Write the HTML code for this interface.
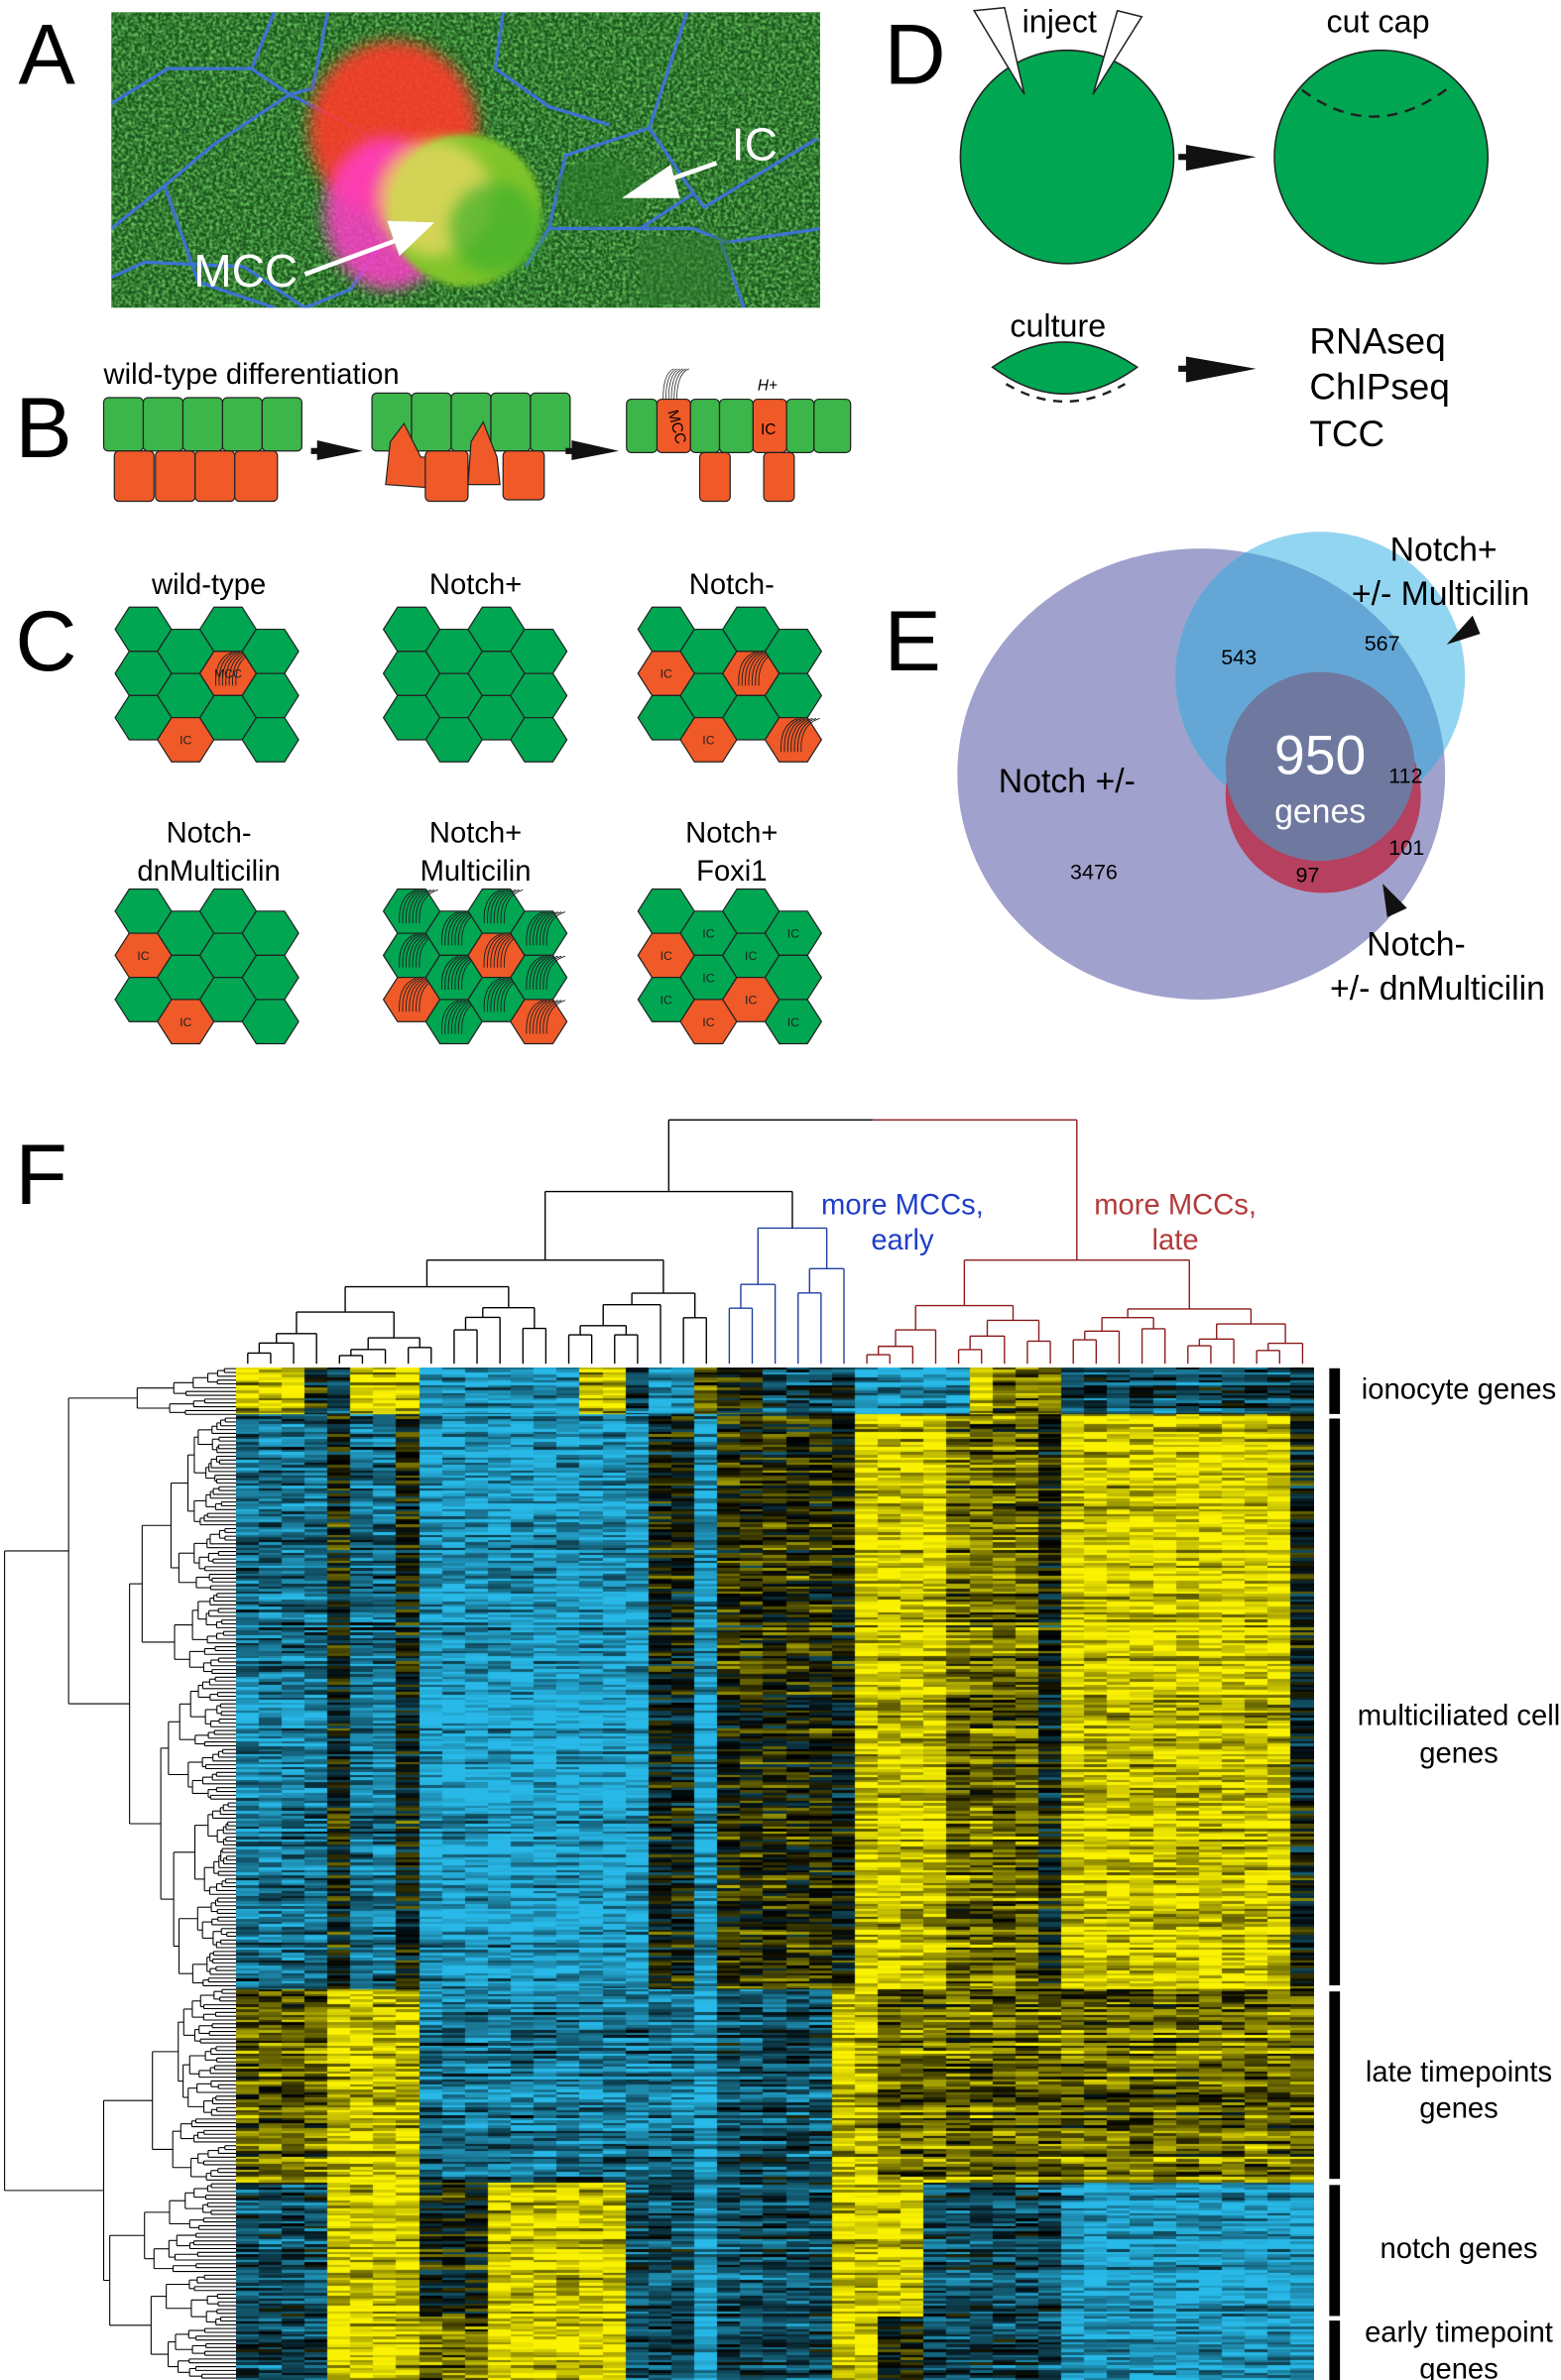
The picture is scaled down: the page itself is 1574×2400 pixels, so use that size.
<!DOCTYPE html>
<html><head><meta charset="utf-8">
<style>
html,body{margin:0;padding:0;background:#fff;}
#wrap{position:relative;width:1574px;height:2400px;overflow:hidden;background:#fff;}
svg{position:absolute;left:0;top:0;}
#hm{position:absolute;left:238px;top:1379px;}
text{font-family:"Liberation Sans",Arial,sans-serif;}
</style></head>
<body><div id="wrap">
<svg id="s" width="1574" height="2400" viewBox="0 0 1024 1562" preserveAspectRatio="none" xmlns="http://www.w3.org/2000/svg">
<defs>
<filter id="tex" x="0" y="0" width="1" height="1">
<feTurbulence type="fractalNoise" baseFrequency="0.45" numOctaves="2" seed="3" result="n"/>
<feColorMatrix in="n" type="matrix" values="0 0 0 0 0.15  0 0 0 0 0.6  0 0 0 0 0.12  2 0 0 0 -0.7"/>
</filter>
<filter id="bl" x="-50%" y="-50%" width="200%" height="200%"><feGaussianBlur stdDeviation="5"/></filter>
<filter id="bl2" x="-50%" y="-50%" width="200%" height="200%"><feGaussianBlur stdDeviation="2"/></filter>
<clipPath id="ph"><rect x="73" y="8" width="465" height="194"/></clipPath>
<clipPath id="cP"><ellipse cx="788" cy="508" rx="160" ry="148"/></clipPath>
<clipPath id="cB"><circle cx="866" cy="444" r="95"/></clipPath>
</defs>

<!-- Panel A -->
<text x="12" y="55" font-size="56">A</text>
<g clip-path="url(#ph)">
<rect x="73" y="8" width="465" height="194" fill="#1c5a1e"/>
<rect x="73" y="8" width="465" height="194" filter="url(#tex)"/>
<g fill="none" stroke="#3f72e0" stroke-width="2.2" opacity="0.9">
<polyline points="73,68 110,45 165,45 180,8"/>
<polyline points="165,45 190,62 205,58 215,8"/>
<polyline points="190,62 235,85 255,100"/>
<polyline points="73,150 108,122 140,95 190,62"/>
<polyline points="108,122 130,185 180,202"/>
<polyline points="330,8 325,45 360,70 400,82"/>
<polyline points="451,7 426,84 371,102 360,150 420,150 455,127 426,84"/>
<polyline points="455,127 462,136 536,91"/>
<polyline points="420,150 455,150 477,159 539,150"/>
<polyline points="473,159 488,202"/>
<polyline points="73,182 95,172 160,175 200,202"/>
<polyline points="345,175 360,150"/>
<polyline points="200,202 230,190 250,160"/>
</g>
<rect x="420" y="155" width="60" height="45" fill="#2f7a30" opacity="0.5"/>
<ellipse cx="395" cy="125" rx="30" ry="22" fill="#2a7a2a" opacity="0.5"/>
<ellipse cx="258" cy="85" rx="55" ry="58" fill="#ff3b2a" filter="url(#bl)" opacity="0.9"/>
<ellipse cx="255" cy="140" rx="42" ry="50" fill="#ff3cc8" filter="url(#bl)" opacity="0.85"/>
<circle cx="305" cy="138" r="50" fill="#7fc42a" filter="url(#bl2)"/>
<circle cx="285" cy="130" r="38" fill="#e8d860" filter="url(#bl)" opacity="0.8"/>
<circle cx="325" cy="150" r="30" fill="#3db02a" filter="url(#bl)" opacity="0.7"/>
</g>
<g fill="#fff" stroke="#fff">
<line x1="470" y1="107" x2="430" y2="121" stroke-width="3"/>
<polygon points="408,130 440,108 446,130" stroke="none"/>
<line x1="200" y1="180" x2="262" y2="157" stroke-width="3"/>
<polygon points="285,146 254,145 262,168" stroke="none"/>
</g>
<text x="480" y="105" font-size="30" fill="#fff">IC</text>
<text x="127" y="188" font-size="30" fill="#fff">MCC</text>

<!-- Panel B -->
<text x="10" y="300" font-size="56">B</text>
<text x="68" y="252" font-size="19">wild-type differentiation</text>
<g id="B" stroke="#222" stroke-width="0.8"></g>
<text x="10" y="440" font-size="56">C</text>
<g font-size="19" text-anchor="middle">
<text x="137" y="390">wild-type</text>
<text x="312" y="390">Notch+</text>
<text x="480" y="390">Notch-</text>
<text x="137" y="553">Notch-</text><text x="137" y="578">dnMulticilin</text>
<text x="312" y="553">Notch+</text><text x="312" y="578">Multicilin</text>
<text x="480" y="553">Notch+</text><text x="480" y="578">Foxi1</text>
</g>
<g id="C"></g>

<!-- Panel D -->
<text x="580" y="55" font-size="56">D</text>
<circle cx="700" cy="103" r="70" fill="#00a651" stroke="#222" stroke-width="1"/>
<circle cx="906" cy="103" r="70" fill="#00a651" stroke="#222" stroke-width="1"/>
<polygon points="639,7 659,5 672,62" fill="#fff" stroke="#222" stroke-width="1"/>
<polygon points="733,7 749,11 717,62" fill="#fff" stroke="#222" stroke-width="1"/>
<path d="M854,59 Q902,95 951,57" fill="none" stroke="#222" stroke-width="1.6" stroke-dasharray="7,5"/>
<text x="695" y="21" font-size="21" text-anchor="middle">inject</text>
<text x="904" y="21" font-size="21" text-anchor="middle">cut cap</text>
<text x="694" y="221" font-size="21" text-anchor="middle">culture</text>
<path d="M651,241 Q698,208 746,241 Q698,276 651,241 Z" fill="#00a651" stroke="#222" stroke-width="1"/>
<path d="M660,252 Q698,275 738,252" fill="none" stroke="#222" stroke-width="1.6" stroke-dasharray="6,5"/>
<g fill="#111">
<rect x="773" y="101" width="12" height="4"/><polygon points="778,95 824,103 778,112"/>
<rect x="773" y="240" width="12" height="4"/><polygon points="778,234 824,242 778,251"/>
<rect x="204" y="294" width="10" height="4"/><polygon points="208,289 238,296 208,302"/>
<rect x="371" y="294" width="10" height="4"/><polygon points="375,289 406,296 375,302"/>
</g>
<g font-size="24"><text x="859" y="232">RNAseq</text><text x="859" y="262">ChIPseq</text><text x="859" y="293">TCC</text></g>

<!-- Panel E -->
<text x="580" y="440" font-size="56">E</text>
<ellipse cx="788" cy="508" rx="160" ry="148" fill="#a1a1cd"/>
<circle cx="866" cy="444" r="95" fill="#92d5f0"/>
<g clip-path="url(#cP)"><circle cx="866" cy="444" r="95" fill="#64a7d6"/></g>
<circle cx="868" cy="522" r="64" fill="#d9536a"/>
<g clip-path="url(#cP)"><circle cx="868" cy="522" r="64" fill="#b5405f"/></g>
<circle cx="866" cy="503" r="62" fill="#6f79a0"/>
<text x="655" y="520" font-size="22">Notch +/-</text>
<g font-size="14"><text x="702" y="577">3476</text><text x="801" y="436">543</text><text x="895" y="427">567</text><text x="911" y="514">112</text><text x="911" y="561">101</text><text x="850" y="579">97</text></g>
<text x="866" y="508" font-size="36" fill="#fff" text-anchor="middle">950</text>
<text x="866" y="540" font-size="22" fill="#fff" text-anchor="middle">genes</text>
<g font-size="22" text-anchor="middle"><text x="947" y="368">Notch+</text><text x="945" y="397">+/- Multicilin</text><text x="929" y="627">Notch-</text><text x="943" y="656">+/- dnMulticilin</text></g>
<polygon points="949,423 966,404 971,416" fill="#111"/>
<polygon points="907,580 923,596 910,602" fill="#111"/>

<!-- Panel F -->
<text x="10" y="790" font-size="56">F</text>
<g font-size="19" text-anchor="middle">
<text x="592" y="797" fill="#1f3ec8">more MCCs,</text><text x="592" y="820" fill="#1f3ec8">early</text>
<text x="771" y="797" fill="#b33a3a">more MCCs,</text><text x="771" y="820" fill="#b33a3a">late</text>
</g>
<g id="D" fill="none" stroke-width="0.9"></g>
<g id="R" fill="none" stroke="#000" stroke-width="0.7"></g>
<g fill="#000">
<rect x="872" y="898" width="7" height="30"/><rect x="872" y="931" width="7" height="372"/>
<rect x="872" y="1307" width="7" height="123"/><rect x="872" y="1434" width="7" height="86"/>
<rect x="872" y="1523" width="7" height="39"/>
</g>
<g font-size="19" text-anchor="middle">
<text x="957" y="918">ionocyte genes</text>
<text x="957" y="1132">multiciliated cell</text><text x="957" y="1157">genes</text>
<text x="957" y="1366">late timepoints</text><text x="957" y="1390">genes</text>
<text x="957" y="1482">notch genes</text>
<text x="957" y="1537">early timepoint</text><text x="957" y="1561">genes</text>
</g>
</svg>
<canvas id="hm" width="1087" height="1021"></canvas>
</div>
<script>
var NS="http://www.w3.org/2000/svg";
function el(p,t,a){var e=document.createElementNS(NS,t);for(var k in a)e.setAttribute(k,a[k]);p.appendChild(e);return e;}
var seed=12345;function rnd(){seed|=0;seed=seed+0x6D2B79F5|0;var t=Math.imul(seed^seed>>>15,1|seed);t=t+Math.imul(t^t>>>7,61|t)^t;return((t^t>>>14)>>>0)/4294967296;}
var G="#3cb64a",O="#f05a28",HG="#00a651";
var B=document.getElementById("B");
function rr(x,y,w,h,f){el(B,"rect",{x:x,y:y,width:w,height:h,rx:3,fill:f});}
for(var i=0;i<5;i++)rr(68+26*i,261,26,35,G);
[[75,26],[102,26],[128,26],[154,28]].forEach(function(c){rr(c[0],296,c[1],33,O);});
for(i=0;i<5;i++)rr(244+26*i,258,26,38,G);
el(B,"path",{d:"M253,318 L256,290 L265,278 L272,292 L276,300 L281,300 L281,320 Z",fill:O});
rr(279,296,28,33,O);
el(B,"path",{d:"M307,318 L309,290 L317,277 L322,290 L326,300 L328,318 Z",fill:O});
rr(330,296,27,32,O);
[[411,20,G],[431,22,O],[453,19,G],[472,22,G],[494,22,O],[516,18,G],[534,24,G]].forEach(function(c){rr(c[0],262,c[1],35,c[2]);});
rr(459,297,20,32,O);rr(501,297,20,32,O);
var t=el(B,"text",{x:0,y:0,"font-size":"10",transform:"translate(438,270) rotate(75)",stroke:"none"});t.textContent="MCC";
t=el(B,"text",{x:499,y:285,"font-size":"10",stroke:"none"});t.textContent="IC";
t=el(B,"text",{x:497,y:256,"font-size":"10","font-style":"italic",stroke:"none"});t.textContent="H+";
for(i=0;i<6;i++)el(B,"path",{d:"M"+(435+i*1.8)+",262 Q"+(435+i*1.8)+",245 "+(442+i*2)+",242",fill:"none","stroke-width":"0.5"});
var C=document.getElementById("C");
function hex(cx,cy,f,lab,cil){var w=18.5,q=9.25,h=14.5;
el(C,"path",{d:"M"+(cx-w)+","+cy+" L"+(cx-q)+","+(cy-h)+" L"+(cx+q)+","+(cy-h)+" L"+(cx+w)+","+cy+" L"+(cx+q)+","+(cy+h)+" L"+(cx-q)+","+(cy+h)+" Z",fill:f,stroke:"#222","stroke-width":"0.8","stroke-linejoin":"round"});
if(lab){var t=el(C,"text",{x:cx,y:cy+3,"font-size":"8","text-anchor":"middle",fill:"#222"});t.textContent=lab;}
if(cil){for(var k=0;k<7;k++)el(C,"path",{d:"M"+(cx-8+k*2.2)+","+(cy+8)+" Q"+(cx-9+k*2.2)+","+(cy-10)+" "+(cx+3+k*2.4)+","+(cy-14),fill:"none",stroke:"#222","stroke-width":"0.6"});}}
function grid(x0,y0,spec){for(var c=0;c<4;c++)for(var r=0;r<3;r++){var cx=x0+c*27.8,cy=y0+r*29+(c%2?14.5:0);var s=spec[c+","+r]||{};hex(cx,cy,s.o?O:HG,s.l,s.c);}}
var all={};for(var c=0;c<4;c++)for(var r=0;r<3;r++)all[c+","+r]={c:1};
all["2,1"].o=1;all["0,2"].o=1;all["3,2"].o=1;
grid(94,413,{"2,1":{o:1,l:"MCC",c:1},"1,2":{o:1,l:"IC"}});
grid(270,413,{});
grid(437,413,{"0,1":{o:1,l:"IC"},"2,1":{o:1,c:1},"1,2":{o:1,l:"IC"},"3,2":{o:1,c:1}});
grid(94,598,{"0,1":{o:1,l:"IC"},"1,2":{o:1,l:"IC"}});
grid(270,598,all);
grid(437,598,{"0,1":{o:1,l:"IC"},"2,2":{o:1,l:"IC"},"1,2":{o:1,l:"IC"},"1,0":{l:"IC"},"3,0":{l:"IC"},"2,1":{l:"IC"},"1,1":{l:"IC"},"0,2":{l:"IC"},"3,2":{l:"IC"}});
var D=document.getElementById("D");var TOP=895;
function lx(i){return 155+(i+0.5)*707/47;}
function ln(x1,y1,x2,y2,col){el(D,"line",{x1:x1,y1:y1,x2:x2,y2:y2,stroke:col});}
function build(lo,hi,h,col){if(lo==hi)return{x:lx(lo),y:TOP};
var n=hi-lo+1,m=lo+Math.max(0,Math.min(n-2,Math.floor(n*(0.35+0.3*rnd()))));
var h1=h+(TOP-h)*(0.15+0.35*rnd()),h2=h+(TOP-h)*(0.15+0.35*rnd());
var a=build(lo,m,h1,col),b=build(m+1,hi,h2,col);node(a,b,h,col);return{x:(a.x+b.x)/2,y:h};}
function node(a,b,h,col){ln(a.x,a.y,a.x,h,col);ln(b.x,b.y,b.x,h,col);ln(a.x,h,b.x,h,col);}
var bk=build(0,20,827,"#000"),bl=build(21,26,806,"#1f3ea0"),rd=build(27,46,827,"#8b1a1a");
node(bk,bl,782,"#000");
var lx1=(bk.x+bl.x)/2;
ln(lx1,782,lx1,735,"#000");ln(rd.x,827,rd.x,735,"#8b1a1a");
ln(lx1,735,(lx1+rd.x)/2,735,"#000");ln((lx1+rd.x)/2,735,rd.x,735,"#8b1a1a");
var R=document.getElementById("R");var LH=665/266;
function ly(i){return 897+(i+0.5)*LH;}
function rl(x1,y1,x2,y2){el(R,"line",{x1:x1,y1:y1,x2:x2,y2:y2});}
function rb(lo,hi,x){if(lo==hi)return{x:155,y:ly(lo)};
var n=hi-lo+1,m=lo+Math.max(0,Math.min(n-2,Math.floor(n*(0.3+0.4*rnd()))));
var x1=x+(155-x)*(0.08+0.3*rnd()),x2=x+(155-x)*(0.08+0.3*rnd());
var a=rb(lo,m,x1),b=rb(m+1,hi,x2);rn(a,b,x);return{x:x,y:(a.y+b.y)/2};}
function rn(a,b,x){rl(a.x,a.y,x,a.y);rl(b.x,b.y,x,b.y);rl(x,a.y,x,b.y);}
var io=rb(0,12,90),mc=rb(13,162,85),la=rb(163,213,100),no=rb(214,265,72);
rn(io,mc,45);var A1={x:45,y:(io.y+mc.y)/2};
rn(la,no,68);var B1={x:68,y:(la.y+no.y)/2};
rn(A1,B1,3);
var cv=document.getElementById("hm"),ctx=cv.getContext("2d");
var M={Y:0.85,y:0.45,k:0.15,K:0,b:-0.4,c:-0.6,B:-0.85};
function pat(s){var o=[];s.split(" ").forEach(function(t){for(var i=0;i<+t.slice(1);i++)o.push(M[t[0]]);});return o;}
var blocks=[
[0,47,pat("Y3 K1 b1 Y3 B7 Y2 b1 B2 y1 K2 b4 B5 Y1 y3 b11")],
[47,627,pat("c4 K1 c2 K1 B10 K2 B1 k5 K1 Y4 y4 K1 Y10 K1")],
[627,822,pat("y4 Y4 c12 B1 b5 Y2 y7 y12")],
[822,957,pat("b4 Y4 K3 Y6 b3 B1 b5 Y4 b6 B11")],
[957,1021,pat("b4 Y4 y3 Y6 b3 B1 b5 Y2 K2 b6 B11")]];
var cw=1087/47,rh=2.6;
blocks.forEach(function(bk){for(var y=bk[0];y<bk[1];y+=rh){var re=(rnd()-0.5)*0.6;
for(var c=0;c<47;c++){var v=bk[2][c]+re+(rnd()-0.5)*0.7;if(v>1)v=1;if(v<-1)v=-1;
var col;if(v>=0)col="rgb("+Math.round(250*v)+","+Math.round(242*v)+",0)";else{var a=-v;col="rgb("+Math.round(40*a)+","+Math.round(185*a)+","+Math.round(232*a)+")";}
ctx.fillStyle=col;ctx.fillRect(Math.floor(c*cw),Math.floor(y),Math.ceil(cw)+1,Math.ceil(rh)+1);}}});
</script>
</body></html>
